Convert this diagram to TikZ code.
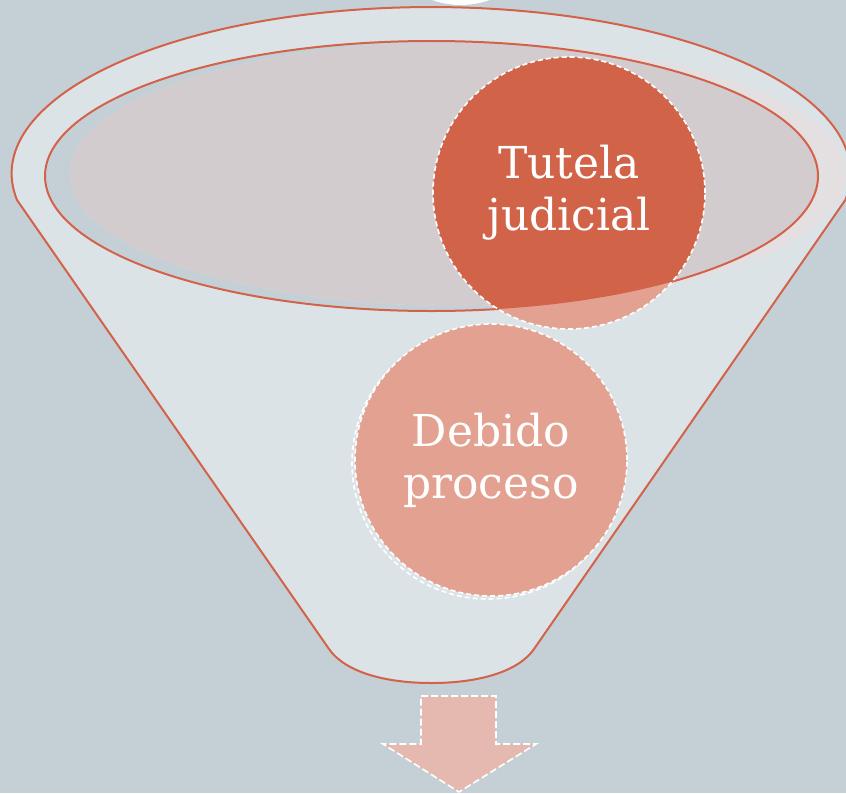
\documentclass[tikz,border=0pt]{standalone}
\usepackage{fontspec}
\setmainfont{DejaVu Serif}
\usepackage{tikz}
\definecolor{bgblue}{HTML}{C5D0D6}
\definecolor{funnelgray}{HTML}{DCE3E7}
\definecolor{rimred}{HTML}{D2624A}
\definecolor{veilpink}{HTML}{E4E0E2}
\definecolor{veildark}{HTML}{D3CCCE}
\definecolor{tuteladark}{HTML}{D16349}
\definecolor{debidosalmon}{HTML}{E3A291}
\definecolor{arrowpink}{HTML}{E5B8B0}
\begin{document}
\begin{tikzpicture}[x=1pt, y=-1pt,
  rim/.style={draw=rimred, line width=2pt},
  whitedash/.style={draw=white, line width=1.6pt, dash pattern=on 5pt off 3pt},
  bubble/.style={circle, whitedash, minimum size=272pt, inner sep=0pt, text=white, align=center, font=\fontsize{44}{52}\selectfont}]
\useasboundingbox (0,0) rectangle (846,793);
\clip (0,0) rectangle (846,793);
\fill[bgblue] (0,0) rectangle (846,793);
\coordinate (hole) at (431.5,176);
\coordinate (veil) at (458,174);
\draw[rim, fill=funnelgray] (17,200) arc[start angle=170.85, end angle=369.15, x radius=419.5, y radius=166.5] -- (534,649) .. controls (518,672) and (478,683) .. (431.5,683) .. controls (385,683) and (345,672) .. (329,649) -- cycle;
\fill[bgblue] (hole) ellipse[x radius=386.5, y radius=135];
\fill[veilpink] (veil) ellipse[x radius=388, y radius=132];
\begin{scope}
\clip (hole) ellipse[x radius=386.5, y radius=135];
\fill[veildark] (veil) ellipse[x radius=388, y radius=132];
\end{scope}
\draw[rim] (hole) ellipse[x radius=386.5, y radius=135];
\fill[debidosalmon] (569,193) circle[radius=136];
\begin{scope}
\clip (hole) ellipse[x radius=386.5, y radius=135];
\fill[tuteladark] (569,193) circle[radius=136];
\end{scope}
\node[bubble] (tutela) at (569,193) {Tutela\\judicial};
\draw[whitedash] (488,463) circle[radius=136];
\node[bubble, fill=debidosalmon] (debido) at (491,460) {Debido\\proceso};
\node[circle, fill=white, minimum size=168pt] (top) at (461,-79) {};
\draw[whitedash, dash pattern=on 7pt off 3pt, fill=arrowpink] (421,696) -- (496,696) -- (496,744) -- (536,744) -- (459,792) -- (383,744) -- (421,744) -- cycle;
\end{tikzpicture}
\end{document}
